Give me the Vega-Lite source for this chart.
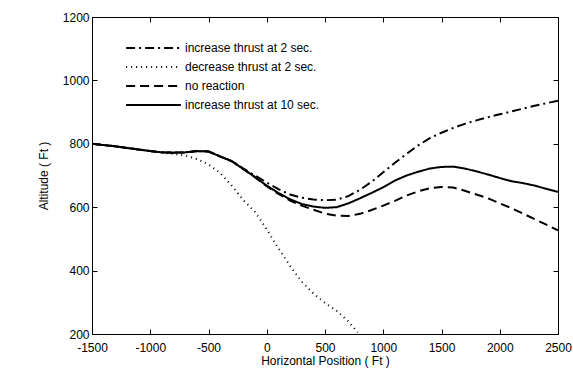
{
  "$schema": "https://vega.github.io/schema/vega-lite/v6.json",
  "width": 466,
  "height": 317,
  "autosize": {"type": "none"},
  "padding": {"left": 92, "top": 17, "right": 15, "bottom": 43},
  "background": "white",
  "config": {
    "font": "Liberation Sans",
    "view": {"stroke": "black", "strokeWidth": 1},
    "axis": {
      "grid": false,
      "tickSize": -5,
      "tickColor": "black",
      "tickWidth": 1,
      "domainColor": "black",
      "labelColor": "black",
      "titleColor": "black",
      "labelFontSize": 12,
      "titleFontSize": 12,
      "titleFontWeight": "normal"
    }
  },
  "data": {
    "values": [
      {"s": "increase thrust at 10 sec.", "x": -1500, "y": 800},
      {"s": "increase thrust at 10 sec.", "x": -1300, "y": 792},
      {"s": "increase thrust at 10 sec.", "x": -1100, "y": 782},
      {"s": "increase thrust at 10 sec.", "x": -1000, "y": 777},
      {"s": "increase thrust at 10 sec.", "x": -900, "y": 773},
      {"s": "increase thrust at 10 sec.", "x": -800, "y": 772},
      {"s": "increase thrust at 10 sec.", "x": -700, "y": 773},
      {"s": "increase thrust at 10 sec.", "x": -600, "y": 777},
      {"s": "increase thrust at 10 sec.", "x": -500, "y": 776},
      {"s": "increase thrust at 10 sec.", "x": -400, "y": 760},
      {"s": "increase thrust at 10 sec.", "x": -300, "y": 745},
      {"s": "increase thrust at 10 sec.", "x": -200, "y": 720},
      {"s": "increase thrust at 10 sec.", "x": -100, "y": 695},
      {"s": "increase thrust at 10 sec.", "x": 0, "y": 668},
      {"s": "increase thrust at 10 sec.", "x": 100, "y": 645},
      {"s": "increase thrust at 10 sec.", "x": 200, "y": 625},
      {"s": "increase thrust at 10 sec.", "x": 300, "y": 610},
      {"s": "increase thrust at 10 sec.", "x": 400, "y": 602},
      {"s": "increase thrust at 10 sec.", "x": 500, "y": 598},
      {"s": "increase thrust at 10 sec.", "x": 600, "y": 600},
      {"s": "increase thrust at 10 sec.", "x": 700, "y": 612},
      {"s": "increase thrust at 10 sec.", "x": 800, "y": 628},
      {"s": "increase thrust at 10 sec.", "x": 900, "y": 645},
      {"s": "increase thrust at 10 sec.", "x": 1000, "y": 663},
      {"s": "increase thrust at 10 sec.", "x": 1100, "y": 684},
      {"s": "increase thrust at 10 sec.", "x": 1200, "y": 700},
      {"s": "increase thrust at 10 sec.", "x": 1300, "y": 712},
      {"s": "increase thrust at 10 sec.", "x": 1400, "y": 722},
      {"s": "increase thrust at 10 sec.", "x": 1500, "y": 727},
      {"s": "increase thrust at 10 sec.", "x": 1600, "y": 728},
      {"s": "increase thrust at 10 sec.", "x": 1700, "y": 722},
      {"s": "increase thrust at 10 sec.", "x": 1800, "y": 713},
      {"s": "increase thrust at 10 sec.", "x": 1900, "y": 703},
      {"s": "increase thrust at 10 sec.", "x": 2000, "y": 692},
      {"s": "increase thrust at 10 sec.", "x": 2100, "y": 682},
      {"s": "increase thrust at 10 sec.", "x": 2200, "y": 676},
      {"s": "increase thrust at 10 sec.", "x": 2300, "y": 668},
      {"s": "increase thrust at 10 sec.", "x": 2400, "y": 658},
      {"s": "increase thrust at 10 sec.", "x": 2500, "y": 648},

      {"s": "increase thrust at 2 sec.", "x": -1500, "y": 800},
      {"s": "increase thrust at 2 sec.", "x": -1300, "y": 792},
      {"s": "increase thrust at 2 sec.", "x": -1100, "y": 782},
      {"s": "increase thrust at 2 sec.", "x": -1000, "y": 777},
      {"s": "increase thrust at 2 sec.", "x": -900, "y": 773},
      {"s": "increase thrust at 2 sec.", "x": -800, "y": 772},
      {"s": "increase thrust at 2 sec.", "x": -700, "y": 773},
      {"s": "increase thrust at 2 sec.", "x": -600, "y": 777},
      {"s": "increase thrust at 2 sec.", "x": -500, "y": 776},
      {"s": "increase thrust at 2 sec.", "x": -400, "y": 760},
      {"s": "increase thrust at 2 sec.", "x": -300, "y": 746},
      {"s": "increase thrust at 2 sec.", "x": -200, "y": 722},
      {"s": "increase thrust at 2 sec.", "x": -100, "y": 700},
      {"s": "increase thrust at 2 sec.", "x": 0, "y": 678},
      {"s": "increase thrust at 2 sec.", "x": 100, "y": 657},
      {"s": "increase thrust at 2 sec.", "x": 200, "y": 640},
      {"s": "increase thrust at 2 sec.", "x": 300, "y": 630},
      {"s": "increase thrust at 2 sec.", "x": 400, "y": 624},
      {"s": "increase thrust at 2 sec.", "x": 500, "y": 622},
      {"s": "increase thrust at 2 sec.", "x": 600, "y": 624},
      {"s": "increase thrust at 2 sec.", "x": 700, "y": 635},
      {"s": "increase thrust at 2 sec.", "x": 800, "y": 655},
      {"s": "increase thrust at 2 sec.", "x": 900, "y": 680},
      {"s": "increase thrust at 2 sec.", "x": 1000, "y": 710},
      {"s": "increase thrust at 2 sec.", "x": 1100, "y": 740},
      {"s": "increase thrust at 2 sec.", "x": 1200, "y": 768},
      {"s": "increase thrust at 2 sec.", "x": 1300, "y": 795},
      {"s": "increase thrust at 2 sec.", "x": 1400, "y": 818},
      {"s": "increase thrust at 2 sec.", "x": 1500, "y": 835},
      {"s": "increase thrust at 2 sec.", "x": 1600, "y": 850},
      {"s": "increase thrust at 2 sec.", "x": 1700, "y": 863},
      {"s": "increase thrust at 2 sec.", "x": 1800, "y": 874},
      {"s": "increase thrust at 2 sec.", "x": 1900, "y": 884},
      {"s": "increase thrust at 2 sec.", "x": 2000, "y": 893},
      {"s": "increase thrust at 2 sec.", "x": 2100, "y": 902},
      {"s": "increase thrust at 2 sec.", "x": 2200, "y": 911},
      {"s": "increase thrust at 2 sec.", "x": 2300, "y": 920},
      {"s": "increase thrust at 2 sec.", "x": 2400, "y": 928},
      {"s": "increase thrust at 2 sec.", "x": 2500, "y": 936},

      {"s": "no reaction", "x": -1500, "y": 800},
      {"s": "no reaction", "x": -1300, "y": 792},
      {"s": "no reaction", "x": -1100, "y": 782},
      {"s": "no reaction", "x": -1000, "y": 777},
      {"s": "no reaction", "x": -900, "y": 773},
      {"s": "no reaction", "x": -800, "y": 772},
      {"s": "no reaction", "x": -700, "y": 773},
      {"s": "no reaction", "x": -600, "y": 777},
      {"s": "no reaction", "x": -500, "y": 776},
      {"s": "no reaction", "x": -400, "y": 760},
      {"s": "no reaction", "x": -300, "y": 745},
      {"s": "no reaction", "x": -200, "y": 720},
      {"s": "no reaction", "x": -100, "y": 694},
      {"s": "no reaction", "x": 0, "y": 666},
      {"s": "no reaction", "x": 100, "y": 642},
      {"s": "no reaction", "x": 200, "y": 621},
      {"s": "no reaction", "x": 300, "y": 605},
      {"s": "no reaction", "x": 400, "y": 592},
      {"s": "no reaction", "x": 500, "y": 580},
      {"s": "no reaction", "x": 600, "y": 573},
      {"s": "no reaction", "x": 700, "y": 572},
      {"s": "no reaction", "x": 800, "y": 579},
      {"s": "no reaction", "x": 900, "y": 591},
      {"s": "no reaction", "x": 1000, "y": 605},
      {"s": "no reaction", "x": 1100, "y": 620},
      {"s": "no reaction", "x": 1200, "y": 637},
      {"s": "no reaction", "x": 1300, "y": 650},
      {"s": "no reaction", "x": 1400, "y": 660},
      {"s": "no reaction", "x": 1500, "y": 664},
      {"s": "no reaction", "x": 1600, "y": 662},
      {"s": "no reaction", "x": 1700, "y": 652},
      {"s": "no reaction", "x": 1800, "y": 640},
      {"s": "no reaction", "x": 1900, "y": 628},
      {"s": "no reaction", "x": 2000, "y": 612},
      {"s": "no reaction", "x": 2100, "y": 597},
      {"s": "no reaction", "x": 2200, "y": 580},
      {"s": "no reaction", "x": 2300, "y": 562},
      {"s": "no reaction", "x": 2400, "y": 545},
      {"s": "no reaction", "x": 2500, "y": 527},

      {"s": "decrease thrust at 2 sec.", "x": -1500, "y": 800},
      {"s": "decrease thrust at 2 sec.", "x": -1300, "y": 792},
      {"s": "decrease thrust at 2 sec.", "x": -1100, "y": 782},
      {"s": "decrease thrust at 2 sec.", "x": -1000, "y": 777},
      {"s": "decrease thrust at 2 sec.", "x": -900, "y": 772},
      {"s": "decrease thrust at 2 sec.", "x": -800, "y": 768},
      {"s": "decrease thrust at 2 sec.", "x": -700, "y": 763},
      {"s": "decrease thrust at 2 sec.", "x": -600, "y": 752},
      {"s": "decrease thrust at 2 sec.", "x": -500, "y": 735},
      {"s": "decrease thrust at 2 sec.", "x": -400, "y": 708},
      {"s": "decrease thrust at 2 sec.", "x": -300, "y": 668},
      {"s": "decrease thrust at 2 sec.", "x": -200, "y": 622},
      {"s": "decrease thrust at 2 sec.", "x": -100, "y": 585},
      {"s": "decrease thrust at 2 sec.", "x": 0, "y": 530},
      {"s": "decrease thrust at 2 sec.", "x": 100, "y": 470},
      {"s": "decrease thrust at 2 sec.", "x": 200, "y": 415},
      {"s": "decrease thrust at 2 sec.", "x": 300, "y": 365},
      {"s": "decrease thrust at 2 sec.", "x": 400, "y": 328},
      {"s": "decrease thrust at 2 sec.", "x": 500, "y": 298},
      {"s": "decrease thrust at 2 sec.", "x": 600, "y": 273},
      {"s": "decrease thrust at 2 sec.", "x": 700, "y": 240},
      {"s": "decrease thrust at 2 sec.", "x": 780, "y": 205}
    ]
  },
  "layer": [
    {
      "mark": {"type": "line", "color": "black", "strokeWidth": 2, "clip": true},
      "encoding": {
        "x": {"field": "x", "type": "quantitative", "scale": {"domain": [-1500, 2500], "nice": false, "zero": false},
              "axis": {"values": [-1500, -1000, -500, 0, 500, 1000, 1500, 2000, 2500], "labelExpr": "'' + datum.value", "title": "Horizontal Position ( Ft )", "labelPadding": 13, "titlePadding": 2, "labelFlush": false}},
        "y": {"field": "y", "type": "quantitative", "scale": {"domain": [200, 1200], "nice": false, "zero": false},
              "axis": {"values": [200, 400, 600, 800, 1000, 1200], "labelExpr": "'' + datum.value", "title": "Altitude ( Ft )", "labelPadding": 8, "titlePadding": 12}},
        "strokeDash": {"field": "s", "type": "nominal",
          "scale": {"domain": ["increase thrust at 2 sec.", "decrease thrust at 2 sec.", "no reaction", "increase thrust at 10 sec."],
                    "range": [[9, 4, 2, 4], [1, 4], [9, 5], [1, 0]]},
          "legend": {"title": null, "orient": "none", "legendX": 33, "legendY": 25, "symbolType": "stroke", "symbolSize": 3000, "clipHeight": 12,
                     "symbolStrokeWidth": 2, "symbolStrokeColor": "black", "labelFontSize": 12, "labelColor": "black", "rowPadding": 7, "labelOffset": 3}},
        "detail": {"field": "s"}
      }
    },
    {
      "mark": {"type": "line", "opacity": 0},
      "encoding": {
        "x": {"field": "x", "type": "quantitative", "axis": {"orient": "top", "values": [-1500, -1000, -500, 0, 500, 1000, 1500, 2000, 2500], "labels": false, "title": null}},
        "y": {"field": "y", "type": "quantitative", "axis": {"orient": "right", "values": [200, 400, 600, 800, 1000, 1200], "labels": false, "title": null}},
        "detail": {"field": "s"}
      }
    }
  ],
  "resolve": {"axis": {"x": "independent", "y": "independent"}}
}
